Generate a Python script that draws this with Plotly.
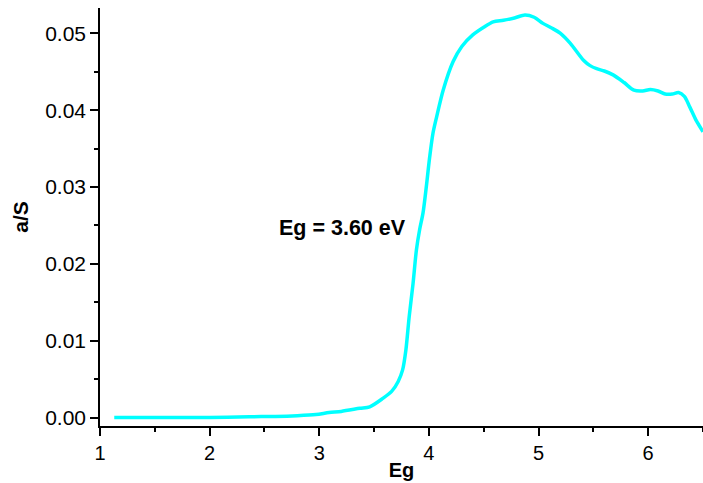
import plotly.graph_objects as go

eg = [1.13, 1.5, 2.0, 2.36, 2.6, 2.8, 2.97, 3.09, 3.2, 3.37, 3.46, 3.58, 3.66, 3.72, 3.76, 3.79, 3.82,
      3.855, 3.886, 3.916, 3.946, 3.976, 4.007, 4.037, 4.07, 4.13, 4.22, 4.30, 4.40, 4.50, 4.586,
      4.68, 4.78, 4.876, 4.96, 5.04, 5.12, 5.20, 5.29, 5.41, 5.47, 5.53, 5.60, 5.68, 5.78, 5.87,
      5.95, 6.02, 6.09, 6.155, 6.22, 6.277, 6.33, 6.38, 6.44, 6.50]
a_s = [0.0, 0.0, 0.0, 0.0001, 0.00015, 0.00025, 0.0004, 0.00065, 0.0008, 0.0012, 0.0014, 0.0025,
       0.0034, 0.0047, 0.0062, 0.0088, 0.0131, 0.0174, 0.0218, 0.0245, 0.0266, 0.0300, 0.0339,
       0.0370, 0.0391, 0.0426, 0.0463, 0.0483, 0.0498, 0.0508, 0.0515, 0.0517, 0.0520, 0.0524,
       0.0521, 0.0513, 0.0507, 0.0500, 0.0487, 0.0465, 0.0458, 0.0454, 0.0451, 0.0446, 0.0436,
       0.0426, 0.0425, 0.0427, 0.0425, 0.0421, 0.0421, 0.0423, 0.0418, 0.0404, 0.0386, 0.0372]

x_ticks = [1, 2, 3, 4, 5, 6]
y_ticks = [0.00, 0.01, 0.02, 0.03, 0.04, 0.05]
annotation_text = "Eg = 3.60 eV"

FONT = "Arial, Liberation Sans, sans-serif"

fig = go.Figure()
fig.add_trace(go.Scatter(x=eg, y=a_s, mode="lines",
                         line=dict(color="#00FFFF", width=3.5, shape="spline", smoothing=0.8),
                         showlegend=False, hoverinfo="skip"))

fig.add_annotation(x=3.21, y=0.02465, text="<b>" + annotation_text + "</b>", showarrow=False,
                   font=dict(family=FONT, size=21.5, color="black"))

axis_common = dict(showgrid=False, zeroline=False, showline=True, linecolor="black", linewidth=1.5,
                   ticks="outside", ticklen=8, tickwidth=1.5, tickcolor="black",
                   mirror=False, automargin=False)

fig.update_layout(
    width=703, height=483,
    margin=dict(l=100, r=0, t=8, b=57),
    paper_bgcolor="white", plot_bgcolor="white",
    xaxis=dict(range=[1, 6.5], tickvals=x_ticks, ticktext=[str(v) for v in x_ticks],
               tickfont=dict(family=FONT, size=20, color="black"),
               minor=dict(dtick=0.5, tick0=1, ticks="outside", ticklen=4, tickwidth=1.5, tickcolor="black"),
               title=dict(text="<b>Eg</b>", font=dict(family=FONT, size=20, color="black"), standoff=0),
               **axis_common),
    yaxis=dict(range=[-0.0011, 0.0533], tickvals=y_ticks, ticktext=["%.2f" % v for v in y_ticks],
               tickfont=dict(family=FONT, size=21, color="black"),
               minor=dict(dtick=0.005, tick0=0, ticks="outside", ticklen=4, tickwidth=1.5, tickcolor="black"),
               title=dict(text="<b>a/S</b>", font=dict(family=FONT, size=21, color="black"), standoff=11),
               **axis_common),
)

fig.write_html("out.html", config={"displayModeBar": False},
               post_script="document.body.style.margin='0';document.body.style.overflow='hidden';")
